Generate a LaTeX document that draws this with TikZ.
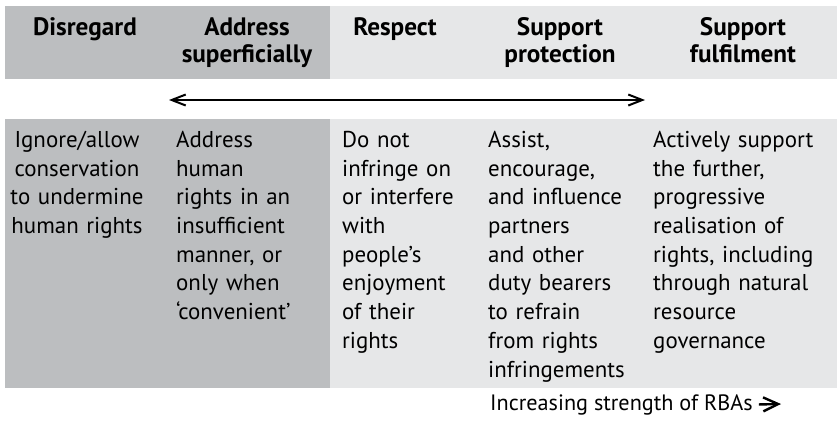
\documentclass[tikz,border=0pt]{standalone}
\usepackage{fontspec}
\setmainfont{PT Sans}
\usetikzlibrary{arrows.meta}
\definecolor{bandDark}{RGB}{188,190,192}
\definecolor{bandLight}{RGB}{230,231,232}

\begin{document}
\begin{tikzpicture}[x=1bp,y=-1bp,%
% common options for the grey bands:
band/.style = {inner sep=0, outer sep=0, anchor=north west},
% common options for the column heads:
head/.style = {text width=170bp, align=center, anchor=base, inner sep=0,
            font=\bfseries\fontsize{25.3}{28}\selectfont},
% common options for the column texts:
cell/.style = {text width=170bp, align=left, anchor=base west, inner sep=0,
            font=\fontsize{23}{28.8}\selectfont},
% common options for the arrows:
barb/.style = {line width=2bp, {Straight Barb[length=14bp,width=11bp]}-{Straight Barb[length=14bp,width=11bp]}}]
\useasboundingbox (0,0) rectangle (837,420);
% bands
\node[band, fill=bandDark, minimum width=325bp, minimum height=73bp] (headDark) at (5,6) {};
\node[band, fill=bandLight, minimum width=507bp, minimum height=73bp] (headLight) at (330,6) {};
\node[band, fill=bandDark, minimum width=325bp, minimum height=269bp] (bodyDark) at (5,119) {};
\node[band, fill=bandLight, minimum width=507bp, minimum height=269bp] (bodyLight) at (330,119) {};
% column heads
\node[head] (hDis) at (85,35) {Disregard};
\node[head] (hAdd) at (247,35) {Address\\superficially};
\node[head] (hRes) at (395,35) {Respect};
\node[head] (hPro) at (560,35) {Support\\protection};
\node[head] (hFul) at (743,35) {Support\\fulfilment};
% scale arrow
\coordinate (scaleL) at (169,100);
\coordinate (scaleR) at (645,100);
\draw[barb] (scaleL) -- (scaleR);
% column texts
\node[cell, align=center, anchor=base] (tDis) at (77,147.5) {Ignore/allow\\conservation\\to undermine\\human rights};
\node[cell] (tAdd) at (176,147.5) {Address\\human\\rights in an\\insufficient\\manner, or\\only when\\`convenient'};
\node[cell] (tRes) at (342,147.5) {Do not\\infringe on\\or interfere\\with\\people's\\enjoyment\\of their\\rights};
\node[cell] (tPro) at (488,147.5) {Assist,\\encourage,\\and influence\\partners\\and other\\duty bearers\\to refrain\\from rights\\infringements};
\node[cell] (tFul) at (653,147.5) {Actively support\\the further,\\progressive\\realisation of\\rights, including\\through natural\\resource\\governance};
% caption
\node[anchor=base west, inner sep=0, font=\fontsize{22.3}{27.8}\selectfont] (cap) at (490,410) {Increasing strength of RBAs};
\coordinate (capEnd) at (781,404);
\draw[line width=2.4bp, -{Straight Barb[length=15bp,width=14bp]}] ([xshift=6bp]cap.east) -- (capEnd);
\end{tikzpicture}
\end{document}
